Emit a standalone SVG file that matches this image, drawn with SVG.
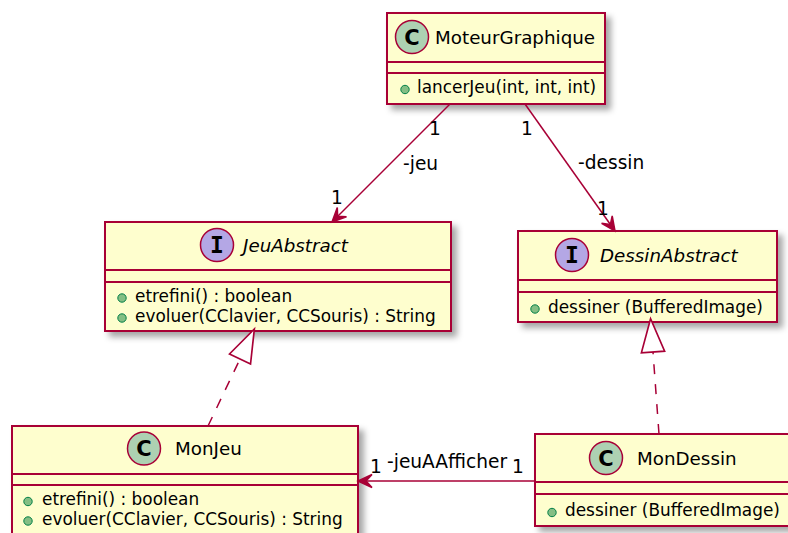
<svg xmlns="http://www.w3.org/2000/svg" width="788" height="533" viewBox="0 0 788 533">
<defs>
<filter id="sh" x="-10%" y="-10%" width="130%" height="140%">
<feGaussianBlur in="SourceAlpha" stdDeviation="3"/>
<feOffset dx="5" dy="5" result="b"/>
<feFlood flood-color="#000" flood-opacity="0.35"/>
<feComposite in2="b" operator="in"/>
<feMerge><feMergeNode/><feMergeNode in="SourceGraphic"/></feMerge>
</filter>
<marker id="arr" markerUnits="userSpaceOnUse" markerWidth="30" markerHeight="30" viewBox="-20 -10 30 20" refX="0" refY="0" orient="auto" overflow="visible">
<path d="M0,0 L-14,-6.5 L-8,0 L-14,6.5 Z" fill="#A80036" stroke="#A80036" stroke-width="1.5" stroke-linejoin="miter"/>
</marker>
<marker id="tri" markerUnits="userSpaceOnUse" markerWidth="40" markerHeight="30" viewBox="-2 -12 36 24" refX="0" refY="0" orient="auto" overflow="visible">
<path d="M0,-10.5 L30,0 L0,10.5 Z" fill="#fff" stroke="#A80036" stroke-width="1.5"/>
</marker>
</defs>
<style>
.box{fill:#FEFECE;stroke:#A80036;stroke-width:2;}
.sep{stroke:#A80036;stroke-width:2;}
.cc{fill:#ADD1B2;stroke:#A80036;stroke-width:1.5;}
.ci{fill:#B4A7E5;stroke:#A80036;stroke-width:1.5;}
.dot{fill:#84BE84;stroke:#038048;stroke-width:1;}
.t{font-family:"DejaVu Sans",sans-serif;font-size:18.3px;fill:#000;}
.ti{font-family:"DejaVu Sans",sans-serif;font-size:18.3px;font-style:italic;fill:#000;}
.m{font-family:"DejaVu Sans",sans-serif;font-size:16.9px;fill:#000;}
.l{font-family:"DejaVu Sans",sans-serif;font-size:18.6px;fill:#000;}
.sc{font-family:"DejaVu Sans",sans-serif;font-size:21px;font-weight:bold;fill:#000;text-anchor:middle;}
.si{font-family:"DejaVu Sans Mono",monospace;font-size:23px;font-weight:bold;fill:#000;text-anchor:middle;}
.lk{fill:none;stroke:#A80036;stroke-width:1.5;}
.dash{fill:none;stroke:#A80036;stroke-width:1.5;stroke-dasharray:10,10;}
</style>

<g id="MoteurGraphique">
<rect class="box" x="387" y="13" width="218" height="91" filter="url(#sh)"/>
<line class="sep" x1="387" y1="62" x2="605" y2="62"/>
<line class="sep" x1="387" y1="73" x2="605" y2="73"/>
<circle class="cc" cx="412" cy="37" r="16.5"/>
<text class="sc" x="412" y="44.5">C</text>
<text class="t" x="435" y="44">MoteurGraphique</text>
<circle class="dot" cx="405" cy="89.5" r="4.2"/>
<text class="m" x="417" y="93">lancerJeu(int, int, int)</text>
</g>

<g id="JeuAbstract">
<rect class="box" x="105" y="222" width="346" height="109" filter="url(#sh)"/>
<line class="sep" x1="105" y1="270" x2="451" y2="270"/>
<line class="sep" x1="105" y1="282" x2="451" y2="282"/>
<circle class="ci" cx="217" cy="245" r="16.5"/>
<text class="si" x="217" y="253">I</text>
<text class="ti" x="243" y="252">JeuAbstract</text>
<circle class="dot" cx="122" cy="298" r="4.2"/>
<text class="m" x="135" y="302">etrefini() : boolean</text>
<circle class="dot" cx="122" cy="318" r="4.2"/>
<text class="m" x="135" y="322">evoluer(CClavier, CCSouris) : String</text>
</g>

<g id="DessinAbstract">
<rect class="box" x="518" y="231" width="259" height="91" filter="url(#sh)"/>
<line class="sep" x1="518" y1="280" x2="777" y2="280"/>
<line class="sep" x1="518" y1="292" x2="777" y2="292"/>
<circle class="ci" cx="572" cy="255" r="16.5"/>
<text class="si" x="572" y="263">I</text>
<text class="ti" x="600" y="262">DessinAbstract</text>
<circle class="dot" cx="535" cy="309" r="4.2"/>
<text class="m" x="548" y="313">dessiner (BufferedImage)</text>
</g>

<g id="MonJeu">
<rect class="box" x="12" y="426" width="346" height="120" filter="url(#sh)"/>
<line class="sep" x1="12" y1="474" x2="358" y2="474"/>
<line class="sep" x1="12" y1="485" x2="358" y2="485"/>
<circle class="cc" cx="144" cy="448.5" r="16.5"/>
<text class="sc" x="144" y="456">C</text>
<text class="t" x="175" y="455">MonJeu</text>
<circle class="dot" cx="28" cy="501.5" r="4.2"/>
<text class="m" x="42" y="505">etrefini() : boolean</text>
<circle class="dot" cx="28" cy="521" r="4.2"/>
<text class="m" x="42" y="525">evoluer(CClavier, CCSouris) : String</text>
</g>

<g id="MonDessin">
<rect class="box" x="535" y="434" width="262" height="92" filter="url(#sh)"/>
<line class="sep" x1="535" y1="482" x2="797" y2="482"/>
<line class="sep" x1="535" y1="494" x2="797" y2="494"/>
<circle class="cc" cx="606" cy="458" r="16.5"/>
<text class="sc" x="606" y="465.5">C</text>
<text class="t" x="637" y="465">MonDessin</text>
<circle class="dot" cx="552" cy="512.5" r="4.2"/>
<text class="m" x="565" y="516">dessiner (BufferedImage)</text>
</g>

<g id="connectors">
<path class="lk" d="M450,104 L332,222" marker-end="url(#arr)"/>
<text class="l" x="429" y="135">1</text>
<text class="l" x="403" y="170">-jeu</text>
<text class="l" x="331" y="204">1</text>

<path class="lk" d="M525,104 L615,231" marker-end="url(#arr)"/>
<text class="l" x="521" y="135">1</text>
<text class="l" x="578" y="169">-dessin</text>
<text class="l" x="597" y="215">1</text>

<path class="dash" d="M208,426 L240,359" marker-end="url(#tri)"/>
<path class="dash" d="M659,434 L653,352" marker-end="url(#tri)"/>

<path class="lk" d="M535,481 L358,481" marker-end="url(#arr)"/>
<text class="l" x="370" y="473">1</text>
<text class="l" x="387" y="468">-jeuAAfficher</text>
<text class="l" x="512" y="473">1</text>
</g>
</svg>
